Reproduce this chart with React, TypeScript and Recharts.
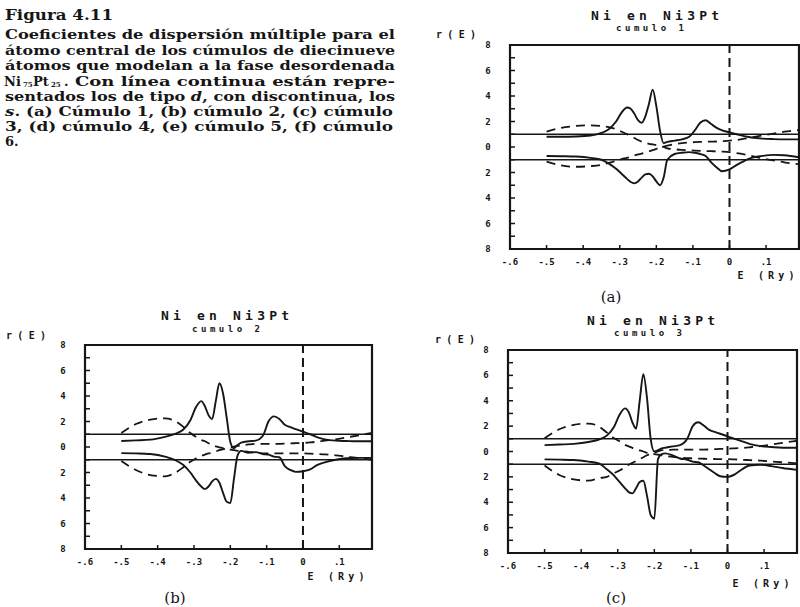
import { LineChart, Line, XAxis, YAxis, ReferenceLine, ReferenceArea } from 'recharts'

// energy grid (Ry) shared by all three panels
const ENERGY = [
  -0.5, -0.46, -0.42, -0.38, -0.35, -0.33, -0.31, -0.295, -0.28, -0.27, -0.26, -0.25, -0.24,
  -0.23, -0.22, -0.21, -0.2, -0.19, -0.18, -0.17, -0.15, -0.13, -0.11, -0.095, -0.08, -0.065,
  -0.05, -0.035, -0.02, 0, 0.02, 0.04, 0.06, 0.09, 0.12, 0.15, 0.19,
]

const X_TICKS = [-0.6, -0.5, -0.4, -0.3, -0.2, -0.1, 0, 0.1]
const X_TICK_LABELS = ['-.6', '-.5', '-.4', '-.3', '-.2', '-.1', '0', '.1']
const Y_TICKS = [-8, -7, -6, -5, -4, -3, -2, -1, 0, 1, 2, 3, 4, 5, 6, 7, 8]
const LEVELS = [1, -1]

// cumulo 1
const C1_D_UP = [
  0.8, 0.8, 0.82, 0.9, 1.1, 1.4, 2.0, 2.7, 3.1, 3.0, 2.6, 2.1, 1.9, 2.4, 3.4, 4.5, 3.2, 1.3, 0.3,
  0.4, 0.5, 0.6, 0.8, 1.3, 1.9, 2.1, 1.8, 1.5, 1.3, 1.15, 1.0, 0.85, 0.75, 0.66, 0.62, 0.6, 0.6,
]
const C1_D_LOW = [
  -0.7, -0.72, -0.75, -0.85, -1.0, -1.3, -1.7, -2.1, -2.5, -2.75, -2.85, -2.7, -2.4, -2.15, -2.1,
  -2.3, -2.7, -3.0, -2.4, -1.0, -0.55, -0.45, -0.4, -0.45, -0.55, -0.7, -1.2, -1.6, -1.9, -1.75,
  -1.4, -1.1, -0.85, -0.7, -0.62, -0.65, -0.8,
]
const C1_S_UP = [
  1.2, 1.5, 1.65, 1.7, 1.65, 1.55, 1.4, 1.2, 1.0, 0.85, 0.7, 0.55, 0.42, 0.33, 0.25, 0.2, 0.15,
  0.08, 0.0, -0.1, -0.18, -0.23, -0.26, -0.28, -0.3, -0.32, -0.33, -0.34, -0.36, -0.4, -0.48,
  -0.58, -0.7, -0.9, -1.05, -1.2, -1.35,
]
const C1_S_LOW = [
  -1.15, -1.45, -1.55, -1.5, -1.4, -1.25, -1.1, -0.95, -0.85, -0.76, -0.66, -0.58, -0.52, -0.42,
  -0.33, -0.25, -0.15, -0.05, 0.03, 0.1, 0.22, 0.3, 0.35, 0.38, 0.4, 0.41, 0.42, 0.43, 0.45, 0.5,
  0.55, 0.65, 0.75, 0.9, 1.05, 1.2, 1.33,
]

// cumulo 2
const C2_D_UP = [
  0.47, 0.52, 0.58, 0.8, 1.05, 1.35, 2.1, 3.1, 3.6, 3.2, 2.5, 2.2, 3.6, 5.0, 4.2, 2.3, 0.4, -0.1,
  0.15, 0.35, 0.45, 0.5, 0.9, 2.0, 2.4, 2.2, 1.75, 1.55, 1.4, 1.2, 1.0, 0.75, 0.6, 0.5, 0.47,
  0.45, 0.45,
]
const C2_D_LOW = [
  -0.48, -0.5, -0.55, -0.75, -1.05, -1.4, -2.0, -2.6, -3.1, -3.3, -3.1, -2.7, -2.5, -2.8, -3.6,
  -4.3, -4.4, -2.5, -0.65, -0.3, -0.45, -0.4, -0.55, -0.6, -0.75, -0.8, -1.5, -1.8, -1.95, -1.9,
  -1.75, -1.4, -1.2, -1.0, -0.88, -0.85, -0.85,
]
const C2_S_UP = [
  1.1, 1.8, 2.15, 2.25, 2.0, 1.6, 1.1, 0.8, 0.55, 0.45, 0.3, 0.15, 0.05, -0.02, -0.1, -0.15, -0.2,
  -0.25, -0.3, -0.32, -0.38, -0.45, -0.5, -0.5, -0.5, -0.5, -0.5, -0.5, -0.5, -0.5, -0.52, -0.55,
  -0.58, -0.65, -0.75, -0.85, -1.0,
]
const C2_S_LOW = [
  -1.1, -1.8, -2.2, -2.3, -2.0, -1.6, -1.15, -0.9, -0.7, -0.6, -0.5, -0.45, -0.35, -0.25, -0.18,
  -0.12, -0.05, 0.02, 0.08, 0.12, 0.2, 0.25, 0.25, 0.25, 0.25, 0.25, 0.26, 0.28, 0.3, 0.32, 0.36,
  0.42, 0.5, 0.6, 0.75, 0.9, 1.1,
]

// cumulo 3
const C3_D_UP = [
  0.5, 0.55, 0.6, 0.75, 0.95, 1.25, 1.95, 2.9, 3.4, 3.1, 2.3, 1.8, 4.0, 6.1, 4.2, 1.0, 0.0, 0.1,
  0.25, 0.3, 0.4, 0.5, 1.0, 2.0, 2.3, 2.05, 1.7, 1.55, 1.4, 1.2, 1.0, 0.8, 0.6, 0.42, 0.35, 0.3,
  0.3,
]
const C3_D_LOW = [
  -0.62, -0.64, -0.67, -0.8, -0.95, -1.4, -1.9, -2.4, -2.9, -3.2, -3.3, -2.9, -2.4, -2.3, -3.5,
  -5.0, -5.3, -0.6, -0.2, -0.15, -0.3, -0.55, -0.65, -0.8, -0.85, -1.1, -1.4, -1.7, -1.95, -2.0,
  -1.8, -1.4, -1.1, -1.05, -1.15, -1.3, -1.45,
]
const C3_S_UP = [
  1.05, 1.75, 2.1, 2.2, 1.95, 1.5, 1.05, 0.8, 0.52, 0.4, 0.28, 0.15, 0.08, 0.0, -0.1, -0.15, -0.2,
  -0.25, -0.3, -0.35, -0.42, -0.48, -0.52, -0.54, -0.56, -0.57, -0.58, -0.59, -0.6, -0.6, -0.62,
  -0.65, -0.68, -0.72, -0.78, -0.85, -0.93,
]
const C3_S_LOW = [
  -1.1, -1.85, -2.2, -2.3, -2.1, -2.0, -1.7, -1.5, -1.25, -1.05, -0.9, -0.75, -0.6, -0.45, -0.3,
  -0.18, -0.08, 0.0, 0.1, 0.12, 0.14, 0.15, 0.15, 0.15, 0.15, 0.15, 0.16, 0.18, 0.2, 0.22, 0.25,
  0.28, 0.33, 0.42, 0.55, 0.68, 0.85,
]

const INK = '#161616'
const MONO = '"DejaVu Sans Mono", monospace'
const ML = 40
const MT = 6
const MR = 6
const MB = 26

function XTick(props: any) {
  const { x, y, payload } = props
  const i = X_TICKS.indexOf(payload.value)
  return (
    <g>
      <line x1={x} x2={x} y1={y} y2={y - 4} stroke={INK} strokeWidth={1.5} />
      <text x={x} y={y + 16} textAnchor="middle" fontFamily={MONO} fontWeight="bold" fontSize={9} fill={INK}>
        {i >= 0 ? X_TICK_LABELS[i] : ''}
      </text>
    </g>
  )
}

function YTick(props: any) {
  const { x, y, payload } = props
  const v = payload.value
  return (
    <g>
      <line x1={x} x2={x + 5} y1={y} y2={y} stroke={INK} strokeWidth={1.5} />
      {v % 2 === 0 && (
        <text x={x - 22} y={y + 3} textAnchor="middle" fontFamily={MONO} fontWeight="bold" fontSize={9} fill={INK}>
          {Math.abs(v)}
        </text>
      )}
    </g>
  )
}

function Panel({ x, y, w, h, dUp, dLow, sUp, sLow }: any) {
  const data = ENERGY.map((e, i) => ({ e, dUp: dUp[i], dLow: dLow[i], sUp: sUp[i], sLow: sLow[i] }))
  return (
    <div style={{ position: 'absolute', left: x - ML, top: y - MT }}>
      <LineChart width={w + ML + MR} height={h + MT + MB} data={data} margin={{ top: MT, right: MR, left: 0, bottom: 0 }}>
        <XAxis
          type="number"
          dataKey="e"
          domain={[-0.6, 0.19]}
          allowDataOverflow
          ticks={X_TICKS}
          interval={0}
          height={MB}
          axisLine={false}
          tickLine={false}
          tickSize={0}
          tickMargin={0}
          tick={(p: any) => <XTick {...p} />}
        />
        <YAxis
          type="number"
          domain={[-8, 8]}
          ticks={Y_TICKS}
          interval={0}
          width={ML}
          axisLine={false}
          tickLine={false}
          tickSize={0}
          tickMargin={0}
          tick={(p: any) => <YTick {...p} />}
        />
        <ReferenceArea x1={-0.6} x2={0.19} y1={-8} y2={8} fill="none" stroke={INK} strokeWidth={2.2} ifOverflow="visible" />
        {LEVELS.map((lv) => (
          <ReferenceLine key={lv} y={lv} stroke={INK} strokeWidth={1.6} />
        ))}
        <ReferenceLine x={0} stroke={INK} strokeWidth={2} strokeDasharray="9 5" />
        <Line type="monotone" dataKey="sUp" stroke={INK} strokeWidth={1.8} strokeDasharray="9 6" dot={false} isAnimationActive={false} />
        <Line type="monotone" dataKey="sLow" stroke={INK} strokeWidth={1.8} strokeDasharray="9 6" dot={false} isAnimationActive={false} />
        <Line type="monotone" dataKey="dUp" stroke={INK} strokeWidth={1.9} dot={false} isAnimationActive={false} />
        <Line type="monotone" dataKey="dLow" stroke={INK} strokeWidth={1.9} dot={false} isAnimationActive={false} />
      </LineChart>
    </div>
  )
}

function PanelText({ title, sub, rx, ry, tx, ty, sx, sy, ex, ey, lx, ly, letter }: any) {
  const t = { fontFamily: MONO, fontWeight: 'bold', fill: INK, dominantBaseline: 'central' as const }
  return (
    <g>
      <text x={tx} y={ty} textAnchor="middle" fontSize={13} textLength={128} lengthAdjust="spacing" {...t}>{title}</text>
      <text x={sx} y={sy} textAnchor="middle" fontSize={9} textLength={68} lengthAdjust="spacing" {...t}>{sub}</text>
      <text x={rx} y={ry} textAnchor="middle" fontSize={10} textLength={40} lengthAdjust="spacing" {...t}>r(E)</text>
      <text x={ex} y={ey} textAnchor="middle" fontSize={10} textLength={57} lengthAdjust="spacing" {...t}>E (Ry)</text>
      <text x={lx} y={ly} textAnchor="middle" fontSize={15} fontFamily='"DejaVu Serif", serif' fill={INK} dominantBaseline="central">
        {letter}
      </text>
    </g>
  )
}

export default function App() {
  const cap = { fontFamily: '"DejaVu Serif", serif', fontWeight: 'bold', fontSize: 13, fill: INK }
  return (
    <div style={{ position: 'absolute', left: 0, top: 0, width: 800, height: 607, overflow: 'hidden', background: '#fff' }}>
      <Panel x={510} y={45} w={289} h={204} dUp={C1_D_UP} dLow={C1_D_LOW} sUp={C1_S_UP} sLow={C1_S_LOW} />
      <Panel x={85} y={345} w={287} h={204} dUp={C2_D_UP} dLow={C2_D_LOW} sUp={C2_S_UP} sLow={C2_S_LOW} />
      <Panel x={508} y={350} w={289} h={203} dUp={C3_D_UP} dLow={C3_D_LOW} sUp={C3_S_UP} sLow={C3_S_LOW} />
      <svg width={800} height={607} style={{ position: 'absolute', left: 0, top: 0, pointerEvents: 'none' }}>
        <text x={5} y={20} {...cap} fontSize={14} textLength={108} lengthAdjust="spacingAndGlyphs">Figura 4.11</text>
        <text x={5} y={39} {...cap} textLength={390} lengthAdjust="spacingAndGlyphs">Coeficientes de dispersión múltiple para el</text>
        <text x={5} y={55} {...cap} textLength={390} lengthAdjust="spacingAndGlyphs">átomo central de los cúmulos de diecinueve</text>
        <text x={5} y={70} {...cap} textLength={390} lengthAdjust="spacingAndGlyphs">átomos que modelan a la fase desordenada</text>
        {/* Ni75Pt25 with subscripts, laid out piece by piece */}
        <text x={4} y={86} {...cap}>Ni</text>
        <text x={23} y={87} {...cap} fontSize={7}>75</text>
        <text x={33} y={86} {...cap}>Pt</text>
        <text x={51} y={87} {...cap} fontSize={7}>25</text>
        <text x={64} y={86} {...cap}>.</text>
        <text x={75} y={86} {...cap} textLength={320} lengthAdjust="spacingAndGlyphs">Con línea continua están repre-</text>
        <text x={5} y={101} {...cap} textLength={390} lengthAdjust="spacingAndGlyphs">
          sentados los de tipo <tspan fontStyle="italic">d</tspan>, con discontinua, los
        </text>
        <text x={5} y={116} {...cap} textLength={388} lengthAdjust="spacingAndGlyphs">
          <tspan fontStyle="italic">s</tspan>.  (a) Cúmulo 1, (b) cúmulo 2, (c) cúmulo
        </text>
        <text x={5} y={131} {...cap} textLength={388} lengthAdjust="spacingAndGlyphs">3, (d) cúmulo 4, (e) cúmulo 5, (f) cúmulo</text>
        <text x={5} y={146} {...cap}>6.</text>

        <PanelText title="Ni en Ni3Pt" sub="cumulo 1" tx={655} ty={15} sx={650} sy={28} rx={456} ry={34} ex={766} ey={275} lx={611} ly={297} letter="(a)" />
        <PanelText title="Ni en Ni3Pt" sub="cumulo 2" tx={225} ty={315} sx={226} sy={329} rx={26} ry={335} ex={336} ey={576} lx={175} ly={598} letter="(b)" />
        <PanelText title="Ni en Ni3Pt" sub="cumulo 3" tx={651} ty={320} sx={648} sy={333} rx={455} ry={339} ex={761} ey={583} lx={616} ly={598} letter="(c)" />
      </svg>
    </div>
  )
}
